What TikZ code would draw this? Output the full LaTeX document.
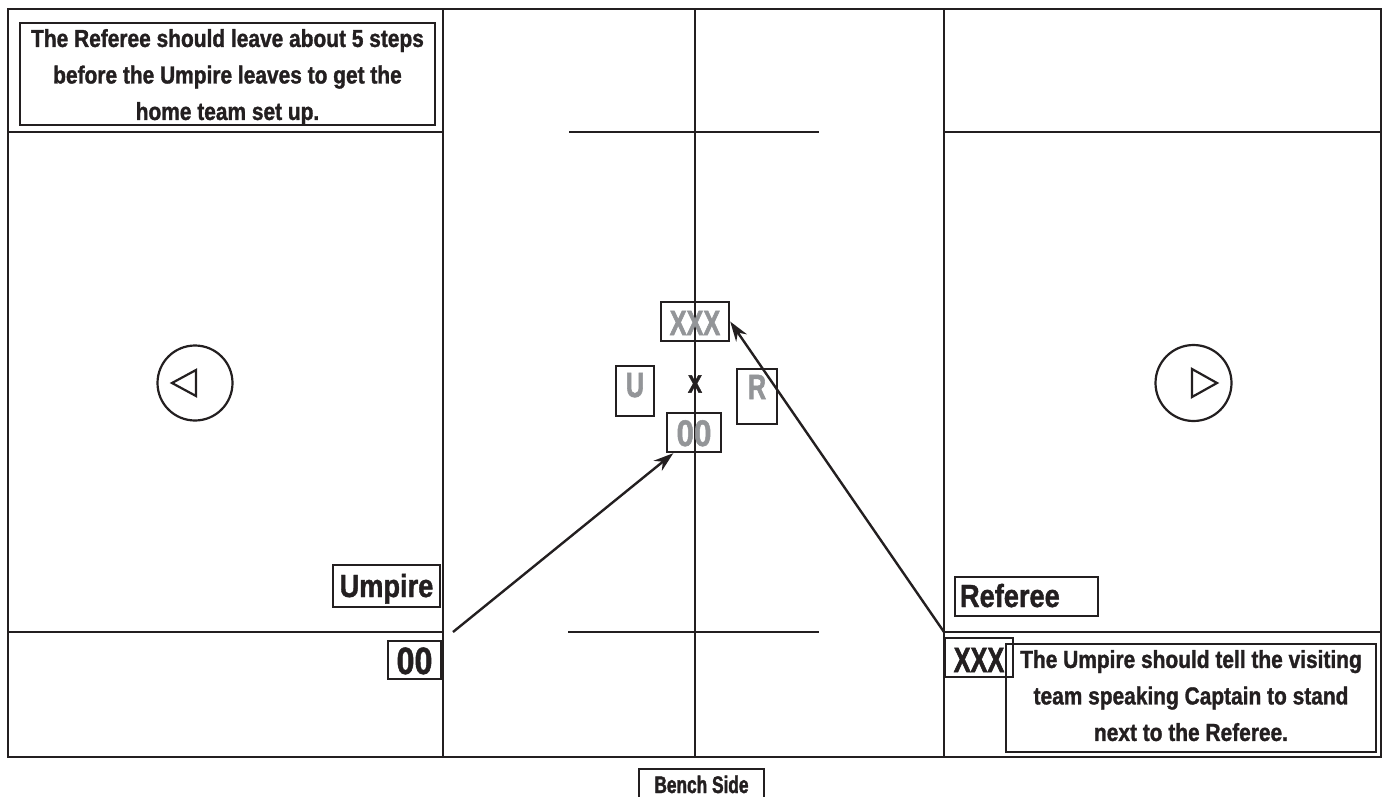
\documentclass[tikz,border=0pt]{standalone}
\usepackage{fontspec}
\setmainfont{Liberation Sans}
\newfontfamily\condA{Liberation Sans}[FakeStretch=0.85, BoldFeatures={FakeBold=1.3}]
\newfontfamily\condB{Liberation Sans}[FakeStretch=0.72, BoldFeatures={FakeBold=1.6}]
\usetikzlibrary{arrows.meta}
\definecolor{ink}{HTML}{231F20}
\definecolor{grayt}{HTML}{939598}
\begin{document}
\begin{tikzpicture}[x=1pt,y=-1pt,
  field/.style={draw=ink, line width=2.6pt},
  box/.style={draw=ink, line width=2.4pt, inner sep=0pt, text=ink},
  gbox/.style={box, text=grayt, font=\condB\bfseries\fontsize{35}{35}\selectfont},
  caption/.style={box, align=center, font=\condA\bfseries\fontsize{24.6}{36.5}\selectfont},
  lab/.style={box, font=\condA\bfseries\fontsize{32}{32}\selectfont},
  arr/.style={draw=ink, line width=2.4pt, -{Stealth[length=20pt,width=13pt]}},
  circ/.style={draw=ink, line width=2.2pt}
]
\useasboundingbox (0,0) rectangle (1387,796);
% field
\draw[field] (8,9) rectangle (1381,757);
\draw[field] (443,9) -- (443,757);
\draw[field] (695,9) -- (695,757);
\draw[field] (944,9) -- (944,757);
\draw[field] (8,132) -- (443,132);
\draw[field] (944,132) -- (1381,132);
\draw[field] (8,632) -- (443,632);
\draw[field] (944,632) -- (1381,632);
\draw[field] (569,132) -- (819,132);
\draw[field] (568,632) -- (819,632);
% goals
\draw[circ] (195,383) circle (37.5);
\draw[circ, line join=miter] (172,383) -- (196,370) -- (196,396) -- cycle;
\draw[circ] (1193.5,383) circle (38);
\draw[circ, line join=miter] (1217,383) -- (1192,369) -- (1192,397) -- cycle;
% captions
\node[caption, minimum width=415pt, minimum height=102pt] (capL) at (227.5,74)
  {\rule{0pt}{24pt}The Referee should leave about 5 steps\\before the Umpire leaves to get the\\home team set up.};
\node[caption, minimum width=370pt, minimum height=108pt] (capR) at (1191,698)
  {The Umpire should tell the visiting\\team speaking Captain to stand\\next to the Referee.\rule[-5pt]{0pt}{1pt}};
% center
\node[gbox, minimum width=68pt, text height=33pt, text depth=6pt] (xxxc) at (695,321.5) {XXX};
\node[gbox, minimum width=38pt, text height=31pt, text depth=19pt] (uc) at (635,391) {U};
\node[gbox, minimum width=40pt, text height=30pt, text depth=25pt] (rc) at (757,396.5) {R};
\node[box, text=grayt, font=\condA\bfseries\fontsize{37}{37}\selectfont, minimum width=54pt, text height=33pt, text depth=6pt] (ooc) at (694,432.5) {00};
\node[text=ink, inner sep=0pt, font=\condA\bfseries\fontsize{25}{25}\selectfont] (xmark) at (695,384) {X};
% players
\node[lab, minimum width=107pt, text height=32pt, text depth=10pt] (ump) at (386.5,586) {Umpire};
\node[lab, font=\condA\bfseries\fontsize{38}{38}\selectfont, minimum width=53pt, text height=33pt, text depth=5pt] (oob) at (414.5,660) {00};
\node[lab, text width=133pt, align=left, inner xsep=5pt, text height=30pt, text depth=9pt] (ref) at (1026.5,596.5) {Referee};
\node[lab, font=\condB\bfseries\fontsize{35}{35}\selectfont, minimum width=68pt, text height=34pt, text depth=5pt] (xxxb) at (979,657.5) {XXX};
\node[box, font=\condB\bfseries\fontsize{24}{24}\selectfont, minimum width=125pt, text height=24pt, text depth=7pt] (bench) at (701.5,784.5) {Bench Side};
% arrows
\coordinate (tailU) at (453,632);
\coordinate (tailR) at (944,632);
\draw[arr] (tailU) -- (ooc.-135);
\draw[arr] (tailR) -- (xxxc.east);
\end{tikzpicture}
\end{document}
